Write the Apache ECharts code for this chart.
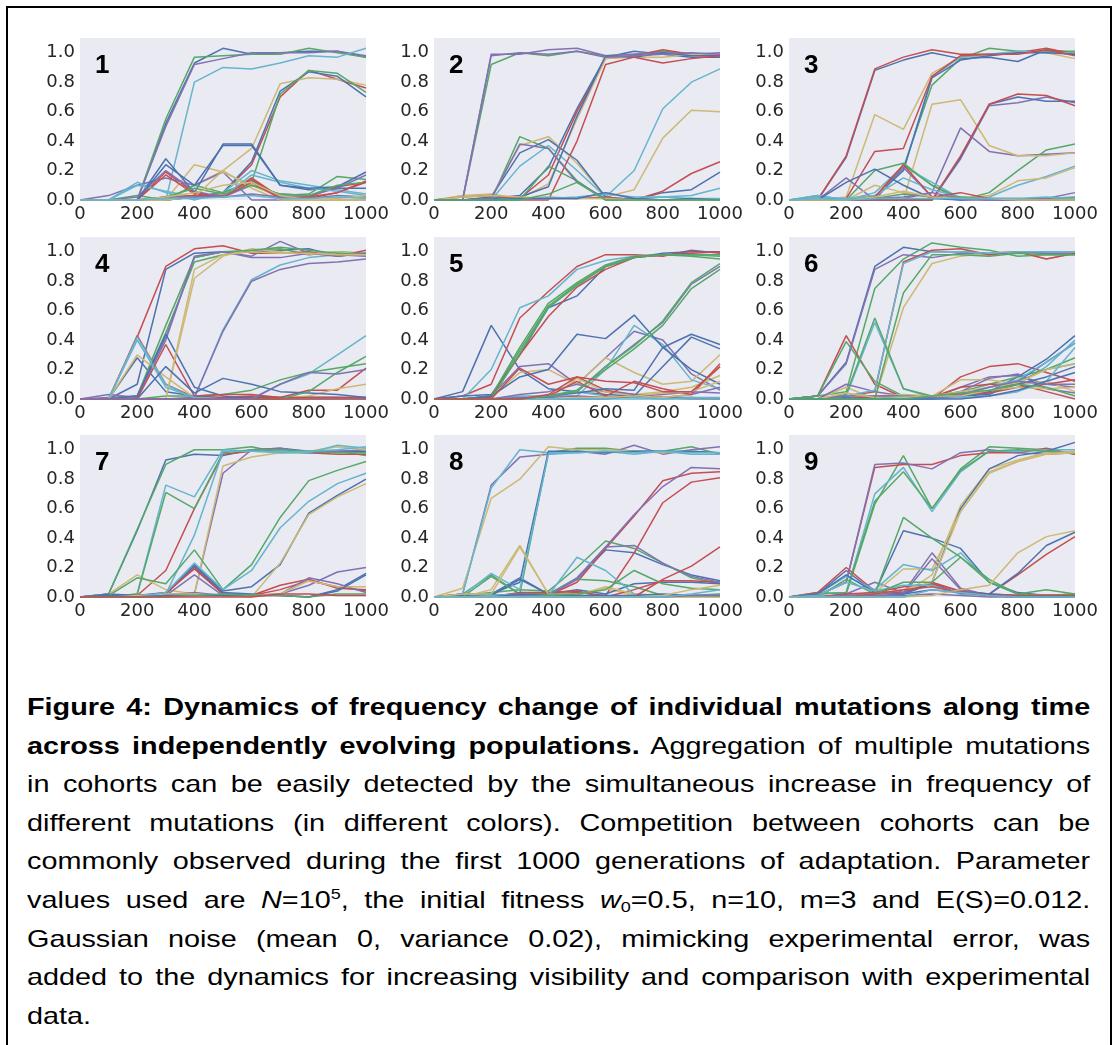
<!DOCTYPE html>
<html>
<head>
<meta charset="utf-8">
<script src="https://cdn.jsdelivr.net/npm/echarts@6/dist/echarts.min.js"></script>
<style>
  html, body { margin: 0; padding: 0; background: #fff; }
  body { width: 1114px; height: 1045px; position: relative; overflow: hidden; }
  #frame { position: absolute; left: 6px; top: 6px; width: 1102px; height: 1100px; border: 2px solid #000; }
  #chart { position: absolute; left: 0; top: 0; width: 1114px; height: 640px; }
  #caption {
    position: absolute; left: 27px; top: 688px; width: 886px;
    font-family: "Liberation Sans", Arial, sans-serif; font-size: 24px; line-height: 38.6px;
    color: #000; transform: scaleX(1.2); transform-origin: 0 0;
  }
  #caption .ln { text-align: justify; text-align-last: justify; white-space: nowrap; }
  #caption .ln.last { text-align-last: left; }
  #caption sup, #caption sub { font-size: 15px; line-height: 0; }
  #caption sup { vertical-align: 9px; }
  #caption sub { vertical-align: -4px; }
</style>
</head>
<body>
<div id="frame"></div>
<div id="chart"></div>
<div id="caption">
  <div class="ln"><b>Figure 4: Dynamics of frequency change of individual mutations along time</b></div>
  <div class="ln"><b>across independently evolving populations.</b> Aggregation of multiple mutations</div>
  <div class="ln">in cohorts can be easily detected by the simultaneous increase in frequency of</div>
  <div class="ln">different mutations (in different colors). Competition between cohorts can be</div>
  <div class="ln">commonly observed during the first 1000 generations of adaptation. Parameter</div>
  <div class="ln">values used are <i>N</i>=10<sup>5</sup>, the initial fitness <i>w</i><sub>0</sub>=0.5, n=10, m=3 and E(S)=0.012.</div>
  <div class="ln">Gaussian noise (mean 0, variance 0.02), mimicking experimental error, was</div>
  <div class="ln">added to the dynamics for increasing visibility and comparison with experimental</div>
  <div class="ln last">data.</div>
</div>
<script>
// Sampling times (generations) shared by every trajectory
const generations = [0, 100, 200, 300, 400, 500, 600, 700, 800, 900, 1000];

// Panel titles
const panelLabels = ['1', '2', '3', '4', '5', '6', '7', '8', '9'];

// Mutation frequency trajectories, one array per mutation, in plotting order.
// Colours follow the plotting order through the palette cycle.
const population1 = [
  [0,0,0,0.52,0.93,1.03,0.99,1.0,1.01,1.01,0.97],
  [0,0,0,0.55,0.97,0.98,0.99,0.99,1.03,1.0,0.97],
  [0,0,0,0,0.02,0.05,0.24,0.70,0.88,0.82,0.76],
  [0,0,0,0.5,0.92,0.96,1.0,1.0,1.0,1.01,0.98],
  [0,0,0,0,0.1,0.2,0.35,0.79,0.83,0.82,0.78],
  [0,0,0,0,0.8,0.9,0.89,0.93,0.98,0.97,1.03],
  [0,0,0,0,0.02,0.05,0.26,0.74,0.87,0.84,0.70],
  [0,0,0,0,0.02,0.05,0.12,0.72,0.88,0.86,0.73],
  [0,0,0,0.19,0.05,0.02,0.15,0.02,0.01,0.05,0.13],
  [0,0.03,0.1,0.15,0.1,0.19,0.0,0,0,0,0],
  [0,0,0,0,0.24,0.19,0.1,0.02,0,0,0],
  [0,0,0.12,0.05,0,0.05,0.2,0.13,0.1,0.07,0.04],
  [0,0,0,0.28,0.05,0.38,0.38,0.1,0.07,0.08,0.08],
  [0,0,0.03,0,0.1,0.05,0.13,0.03,0.04,0.16,0.14],
  [0,0,0,0.17,0.04,0.03,0.14,0.02,0.02,0.09,0.12],
  [0,0,0.02,0.2,0.06,0.02,0.1,0.04,0.03,0.08,0.17],
  [0,0,0,0,0.02,0.2,0.08,0,0,0,0],
  [0,0,0.1,0.06,0.02,0.02,0.17,0.12,0.08,0.06,0.03],
  [0,0,0,0.24,0.1,0.37,0.37,0.1,0.08,0.09,0.19],
  [0,0,0,0.02,0.08,0.04,0.1,0.04,0.03,0.1,0.12],
  [0,0,0,0.02,0.03,0.02,0.12,0.01,0.02,0.05,0.12],
  [0,0,0,0.02,0.02,0.02,0.04,0.02,0.01,0.03,0.02],
  [0,0,0,0.02,0.05,0.1,0.12,0.03,0,0.01,0.03],
  [0,0,0,0.01,0.01,0.02,0.03,0.01,0.01,0.02,0.01]
];

const population2 = [
  [0,0,0.01,0.03,0.22,0.62,0.97,1.01,0.99,0.97,0.97],
  [0,0,0.92,1.0,0.98,1.01,0.98,0.99,1.01,0.99,0.98],
  [0,0,0,0.01,0.17,0.6,0.96,0.98,1.02,0.99,0.98],
  [0,0,0.99,0.99,1.02,1.03,0.98,0.99,1.0,0.99,1.0],
  [0,0.03,0.04,0.01,0.11,0.55,0.96,0.97,0.97,0.99,0.98],
  [0,0,0,0.23,0.37,0.2,0.02,0.2,0.62,0.8,0.89],
  [0,0,0.01,0.02,0.09,0.57,0.98,0.97,1.0,0.98,0.98],
  [0,0,0,0.43,0.35,0.13,0,0,0,0,0],
  [0,0,0,0,0,0.4,0.92,0.97,0.93,0.96,0.98],
  [0,0,0.98,1.0,0.99,1.01,0.97,0.98,0.99,1.0,0.99],
  [0,0,0.02,0.37,0.43,0.25,0.02,0.07,0.42,0.61,0.6],
  [0,0,0,0.01,0.02,0.01,0.05,0.01,0.02,0.03,0.08],
  [0,0,0.02,0.32,0.41,0.27,0.02,0,0.05,0.07,0.19],
  [0,0,0,0,0.23,0.13,0,0,0,0,0],
  [0,0.02,0.03,0.01,0.01,0.01,0.02,0,0.06,0.18,0.26],
  [0,0,0.01,0.38,0.35,0.12,0.01,0.01,0,0,0],
  [0,0.02,0.03,0.02,0.01,0.01,0.01,0,0,0,0],
  [0,0,0,0.01,0.01,0.02,0.04,0.02,0.02,0.01,0.01],
  [0,0,0,0.01,0.01,0.01,0.05,0.01,0,0.01,0],
  [0,0,0,0,0.04,0.12,0,0,0,0,0]
];

const population3 = [
  [0,0,0.29,0.88,0.95,1.0,0.96,0.97,0.94,1.02,1.0],
  [0,0,0,0.02,0.22,0.78,0.96,1.03,1.01,1.01,1.01],
  [0,0,0.3,0.89,0.97,1.02,0.99,0.99,1.0,1.03,0.99],
  [0,0,0,0,0.01,0.05,0.49,0.33,0.3,0.31,0.32],
  [0,0,0.02,0.58,0.48,0.86,0.97,0.98,1.01,1.0,0.96],
  [0,0.03,0,0.02,0.2,0.84,0.97,0.99,1.01,1.0,1.0],
  [0,0,0,0.02,0.2,0.83,0.95,0.98,1.0,1.0,0.99],
  [0,0,0,0.2,0.25,0.1,0,0.05,0.2,0.34,0.38],
  [0,0,0.01,0.33,0.35,0.84,0.98,0.99,0.99,1.02,0.98],
  [0,0,0,0,0,0,0.28,0.64,0.66,0.7,0.66],
  [0,0,0,0,0,0.65,0.68,0.37,0.3,0.3,0.32],
  [0,0.03,0,0.05,0.23,0.12,0.01,0.02,0.1,0.16,0.23],
  [0,0,0,0,0,0,0.29,0.65,0.7,0.67,0.67],
  [0,0.02,0,0.01,0.24,0.1,0.01,0,0,0.01,0.02],
  [0,0,0,0,0,0,0.3,0.65,0.72,0.71,0.64],
  [0,0,0.15,0,0.22,0.02,0,0,0,0.01,0.05],
  [0,0,0,0.1,0.05,0.02,0.01,0.03,0.13,0.15,0.22],
  [0,0.02,0.01,0.03,0.15,0.07,0.02,0.01,0,0,0],
  [0,0,0.12,0.21,0.1,0.01,0,0.01,0.01,0,0.01],
  [0,0,0,0.01,0.04,0.02,0.02,0.01,0,0,0.01],
  [0,0,0,0.02,0.24,0.02,0.05,0.01,0,0,0],
  [0,0,0,0.01,0.02,0.05,0.01,0,0,0,0],
  [0,0,0,0.02,0.06,0.02,0.01,0.01,0,0,0],
  [0,0.01,0,0.01,0.01,0.01,0.01,0.01,0.01,0.02,0.01]
];

const population4 = [
  [0,0,0.1,0.88,0.99,1.0,1.0,1.01,1.02,0.97,0.99],
  [0,0,0.02,0.45,0.93,0.98,1.01,1.02,0.98,1.0,0.99],
  [0,0,0.42,0.9,1.02,1.04,0.99,0.99,1.0,0.97,1.01],
  [0,0.01,0.02,0.42,0.96,1.0,0.97,1.07,0.99,0.98,0.97],
  [0,0,0,0,0.82,0.97,1.02,1.0,0.98,1.0,0.98],
  [0,0,0,0,0.01,0.47,0.81,0.91,0.96,0.98,0.98],
  [0,0,0.28,0.05,0.02,0.01,0.01,0.01,0.01,0.01,0.01],
  [0,0,0.02,0.5,0.96,1.0,1.01,1.03,1.01,0.99,0.98],
  [0,0,0.43,0.1,0.01,0.01,0.02,0.01,0.06,0.06,0.21],
  [0,0.03,0.01,0.4,0.97,1.0,0.96,0.96,0.99,0.97,0.99],
  [0,0,0.3,0.15,0.01,0,0,0,0.02,0.07,0.1],
  [0,0,0.42,0.1,0,0,0,0.1,0.17,0.3,0.43],
  [0,0,0.02,0.44,0.08,0.02,0,0,0.01,0.01,0],
  [0,0,0,0.02,0.02,0.03,0.06,0.13,0.18,0.21,0.24],
  [0,0,0,0.37,0.02,0.03,0.03,0.01,0.01,0.01,0.01],
  [0,0,0,0,0.01,0.46,0.8,0.88,0.92,0.93,0.95],
  [0,0,0,0,0.88,0.98,1.0,0.99,0.99,0.98,0.98],
  [0,0,0.4,0.08,0.01,0,0,0,0,0,0],
  [0,0,0,0.22,0.04,0.14,0.1,0.05,0.04,0.03,0.01],
  [0,0,0,0,0,0,0,0,0.05,0.18,0.29],
  [0,0,0,0,0,0,0,0,0,0,0],
  [0,0,0,0,0,0,0,0.1,0.18,0.17,0.2]
];

const population5 = [
  [0,0.05,0.5,0.2,0.07,0.05,0.03,0.02,0.01,0.01,0.0],
  [0,0,0.02,0.33,0.63,0.78,0.9,0.96,0.98,0.98,0.97],
  [0,0.02,0.1,0.55,0.73,0.9,0.98,0.98,0.97,1.01,0.99],
  [0,0,0.02,0.22,0.24,0.1,0.28,0.46,0.4,0.17,0.06],
  [0,0,0.01,0.18,0.2,0.1,0.28,0.18,0.1,0.12,0.3],
  [0,0,0.2,0.62,0.7,0.88,0.94,0.97,0.98,0.98,0.98],
  [0,0.02,0.03,0.3,0.62,0.7,0.9,0.96,0.99,1.0,1.0],
  [0,0,0.02,0.35,0.65,0.79,0.91,0.97,0.98,0.97,0.95],
  [0,0,0.01,0.3,0.56,0.76,0.88,0.96,0.98,0.99,1.0],
  [0,0,0,0,0.02,0.05,0.22,0.37,0.52,0.78,0.9],
  [0,0,0,0,0.02,0.05,0.05,0.03,0.05,0.08,0.16],
  [0,0,0,0.02,0.02,0.02,0.2,0.5,0.37,0.13,0.07],
  [0,0,0.02,0.15,0.2,0.44,0.41,0.57,0.35,0.2,0.1],
  [0,0,0,0.31,0.62,0.77,0.9,0.96,0.98,0.98,0.98],
  [0,0,0,0.21,0.1,0.15,0.06,0.03,0.01,0,0],
  [0,0,0,0.03,0.05,0.1,0.05,0.03,0.01,0.03,0.08],
  [0,0,0,0,0,0.14,0.05,0.02,0.01,0.03,0.22],
  [0,0,0,0.01,0.01,0.05,0.02,0.01,0,0,0],
  [0,0,0,0,0,0,0,0.02,0.22,0.42,0.34],
  [0,0,0,0,0.02,0.06,0.2,0.34,0.5,0.75,0.88],
  [0,0,0,0,0.02,0.12,0.02,0.12,0.07,0.03,0.24],
  [0,0,0,0.01,0.01,0.02,0.01,0.02,0.03,0.05,0.04],
  [0,0,0,0,0,0.01,0.01,0.02,0.04,0.05,0.12],
  [0,0,0,0,0,0,0,0,0,0.01,0.01],
  [0,0,0,0,0.02,0.04,0.07,0.06,0.35,0.44,0.37],
  [0,0,0,0,0.02,0.05,0.22,0.36,0.53,0.79,0.92],
  [0,0,0,0,0.03,0.15,0.12,0.11,0.05,0.05,0.22]
];

const population6 = [
  [0,0.02,0.25,0.9,1.03,1.0,1.0,0.99,1.0,0.99,0.99],
  [0,0.02,0.05,0.75,0.95,1.06,1.03,1.01,0.97,0.98,0.98],
  [0,0.02,0.43,0.1,0.01,0,0.15,0.22,0.24,0.18,0.12],
  [0,0.02,0.24,0.88,0.98,0.96,0.99,0.98,1.0,0.99,0.99],
  [0,0,0.08,0,0.62,0.92,0.97,0.99,1.0,0.95,0.99],
  [0,0,0.02,0.52,0.07,0.01,0.02,0.04,0.1,0.22,0.4],
  [0,0,0.01,0.01,0.02,0.01,0.03,0.05,0.15,0.27,0.43],
  [0,0.02,0.39,0.12,0.02,0.02,0.05,0.1,0.15,0.2,0.28],
  [0,0,0.02,0.05,0.93,1.01,1.02,0.98,1.0,0.95,0.99],
  [0,0,0.1,0.05,0.02,0.01,0.08,0.15,0.16,0.1,0.08],
  [0,0,0,0.02,0.03,0.02,0.13,0.13,0.1,0.12,0.05],
  [0,0,0.02,0.06,0.92,1.0,1.0,0.99,1.0,1.0,1.0],
  [0,0,0,0.01,0.01,0.02,0.02,0.03,0.12,0.25,0.38],
  [0,0,0.03,0.55,0.07,0.02,0.03,0.05,0.12,0.2,0.24],
  [0,0,0,0.02,0.02,0.01,0.08,0.1,0.1,0.05,0.0],
  [0,0,0.02,0.02,0.02,0.01,0.05,0.14,0.17,0.07,0.04],
  [0,0,0.04,0.01,0.01,0.02,0.05,0.08,0.11,0.2,0.24],
  [0,0,0,0,0.02,0.01,0.03,0.08,0.13,0.25,0.38],
  [0,0,0,0,0,0,0.02,0.05,0.1,0.15,0.22],
  [0,0,0,0,0.72,0.98,0.98,0.97,0.99,0.98,0.98],
  [0,0,0,0,0,0.02,0.03,0.04,0.08,0.1,0.13],
  [0,0,0,0,0.01,0.01,0.03,0.08,0.12,0.1,0.1],
  [0,0,0,0,0.01,0.02,0.02,0.06,0.08,0.07,0.08],
  [0,0,0,0,0,0,0.01,0.02,0.05,0.12,0.35],
  [0,0,0,0,0,0,0,0.02,0.06,0.12,0.18],
  [0,0,0,0,0,0.02,0.04,0.06,0.1,0.08,0.02]
];

const population7 = [
  [0,0.02,0.45,0.93,0.97,0.96,1.0,1.01,0.99,0.99,0.99],
  [0,0.02,0.46,0.9,1.0,1.0,1.02,0.98,0.98,0.99,0.96],
  [0,0,0.01,0.18,0.6,0.97,0.99,0.99,0.98,0.97,0.97],
  [0,0,0,0.02,0.02,0.84,1.0,1.01,0.98,0.99,1.0],
  [0,0.02,0.15,0.05,0.02,0.89,0.95,0.98,0.99,1.02,1.0],
  [0,0,0.02,0.76,0.68,1.0,0.99,0.99,0.98,1.03,1.01],
  [0,0.01,0.01,0.02,0.22,0.04,0.07,0.22,0.57,0.69,0.8],
  [0,0,0.02,0.71,0.6,0.98,1.0,1.0,0.99,0.98,0.98],
  [0,0,0.01,0.02,0.2,0.02,0.01,0.08,0.12,0.06,0.05],
  [0,0,0,0.01,0.15,0.01,0.01,0.02,0.08,0.17,0.2],
  [0,0,0,0.01,0.01,0.01,0,0.23,0.56,0.68,0.77],
  [0,0,0.01,0.02,0.42,0.99,0.99,0.98,0.99,1.0,1.02],
  [0,0.02,0.01,0.03,0.21,0.03,0.02,0.01,0.0,0.05,0.16],
  [0,0.01,0.13,0.09,0.32,0.05,0.22,0.54,0.79,0.86,0.92],
  [0,0,0,0.03,0.19,0.02,0.01,0.05,0.11,0.07,0.04],
  [0,0,0,0.01,0.03,0.01,0.01,0.02,0.13,0.09,0.03],
  [0,0,0.01,0.02,0.02,0.01,0.01,0.02,0.11,0.07,0.07],
  [0,0,0,0.03,0.23,0.05,0.18,0.47,0.65,0.77,0.84],
  [0,0.01,0,0.01,0.01,0.01,0.01,0.01,0,0.04,0.15],
  [0,0,0,0,0.01,0.02,0.01,0.01,0,0.02,0.02],
  [0,0,0,0,0,0,0,0.02,0.02,0.01,0.01]
];

const population8 = [
  [0,0.01,0.02,0.13,0.02,0.12,0.32,0.3,0.22,0.15,0.11],
  [0,0.02,0.15,0.02,0.98,1.01,1.01,0.99,0.99,1.02,0.97],
  [0,0,0.01,0.02,0.01,0.1,0.33,0.55,0.79,0.84,0.85],
  [0,0.02,0.76,0.95,0.97,0.99,0.97,1.03,0.97,1.0,1.02],
  [0,0.06,0.67,0.8,1.02,1.0,1.0,0.99,0.98,0.99,0.98],
  [0,0.02,0.74,1.0,0.98,0.98,0.99,0.97,0.99,0.97,0.97],
  [0,0.02,0.02,0.1,0.99,0.99,0.98,0.99,0.99,0.99,0.98],
  [0,0.01,0.03,0.05,0.04,0.2,0.38,0.33,0.23,0.13,0.09],
  [0,0,0,0.02,0.02,0.03,0.01,0.3,0.64,0.78,0.81],
  [0,0,0.01,0.02,0.02,0.13,0.34,0.56,0.75,0.88,0.87],
  [0,0,0.05,0.35,0.02,0.02,0.06,0.01,0,0,0],
  [0,0.01,0.16,0.05,0.97,0.98,0.99,0.98,0.99,0.98,0.98],
  [0,0.01,0.01,0.12,0.02,0.05,0.02,0.09,0.1,0.1,0.09],
  [0,0,0.14,0.02,0.02,0.12,0.11,0.07,0.01,0.01,0.02],
  [0,0,0,0.03,0.03,0.04,0,0.05,0.11,0.11,0.1],
  [0,0,0,0.01,0.01,0.12,0.34,0.35,0.23,0.14,0.1],
  [0,0.02,0.02,0.34,0.02,0.01,0.07,0.02,0,0,0],
  [0,0,0.01,0.02,0.01,0.27,0.18,0.02,0.01,0.01,0.01],
  [0,0,0,0.02,0.01,0.01,0.01,0.01,0.02,0.01,0.01],
  [0,0,0,0,0.01,0.02,0.05,0.18,0.09,0.06,0.05],
  [0,0,0,0,0,0,0,0,0.12,0.21,0.34],
  [0,0,0,0,0,0,0,0,0,0.01,0.01],
  [0,0,0,0,0,0,0,0,0.01,0.05,0.08],
  [0,0,0,0,0,0,0,0,0,0.02,0.05]
];

const population9 = [
  [0,0.02,0.18,0.03,0.45,0.4,0.33,0.1,0.03,0.01,0.01],
  [0,0.03,0.02,0.63,0.96,0.6,0.87,1.02,1.01,1.0,0.97],
  [0,0.01,0.1,0.88,0.9,0.9,0.96,0.98,0.98,1.01,0.97],
  [0,0.01,0.1,0.9,0.91,0.87,0.98,1.0,0.98,0.97,0.98],
  [0,0,0.01,0.02,0.02,0.15,0.62,0.87,0.93,0.98,0.99],
  [0,0.02,0.03,0.7,0.88,0.58,0.85,0.99,0.99,1.0,1.0],
  [0,0,0.01,0.03,0.03,0.1,0.6,0.87,0.96,0.99,1.05],
  [0,0.02,0.03,0.65,0.85,0.6,0.86,0.99,1.0,0.99,0.98],
  [0,0.03,0.2,0.04,0.03,0.1,0.04,0.02,0.15,0.29,0.41],
  [0,0,0.02,0.1,0.03,0.3,0.06,0.01,0,0.01,0.02],
  [0,0,0.01,0.03,0.19,0.19,0.58,0.85,0.92,0.97,0.99],
  [0,0.02,0.14,0.05,0.22,0.18,0.3,0.1,0.02,0.01,0.01],
  [0,0.02,0.15,0.03,0.02,0.09,0.02,0.02,0.16,0.35,0.44],
  [0,0,0.12,0.02,0.54,0.4,0.27,0.1,0.02,0.05,0.02],
  [0,0,0.02,0.03,0.07,0.09,0.04,0.02,0.01,0.01,0.01],
  [0,0,0.01,0.02,0.02,0.26,0.05,0.01,0,0,0.01],
  [0,0,0,0.02,0.05,0.1,0.58,0.84,0.92,0.97,0.98],
  [0,0.01,0.1,0.04,0.08,0.08,0.02,0.01,0,0,0],
  [0,0,0,0,0.02,0.05,0.03,0.02,0.01,0.01,0.01],
  [0,0,0,0.02,0.1,0.1,0.27,0.12,0.02,0.01,0.02],
  [0,0,0,0.02,0.05,0.07,0.03,0.01,0.01,0.01,0.01],
  [0,0,0,0.01,0.01,0.02,0.01,0,0,0,0],
  [0,0,0,0,0,0.01,0.05,0.08,0.3,0.41,0.45],
  [0,0,0,0,0,0.05,0.03,0.01,0,0,0]
];

const populations = [population1, population2, population3, population4, population5,
                     population6, population7, population8, population9];

// Colour cycle (seaborn "deep")
const palette = ['#4C72B0', '#55A868', '#C44E52', '#8172B2', '#CCB974', '#64B5CD'];

// 3 x 3 panel layout
const colLeft = [80, 434, 789];
const rowTop = [38, 237, 435];
const panelW = 286;
const panelH = 162;

const chart = echarts.init(document.getElementById('chart'), null, { renderer: 'canvas' });

const grids = [], xAxes = [], yAxes = [], series = [], graphics = [];
const tickFont = { fontFamily: 'DejaVu Sans', fontSize: 18, color: '#262626' };

populations.forEach((lines, p) => {
  const left = colLeft[p % 3];
  const top = rowTop[Math.floor(p / 3)];
  grids.push({
    left: left, top: top, width: panelW, height: panelH,
    show: true, backgroundColor: '#EAEAF2', borderWidth: 0
  });
  xAxes.push({
    type: 'value', gridIndex: p, min: 0, max: 1000, interval: 200,
    axisLine: { show: false }, axisTick: { show: false }, splitLine: { show: false },
    axisLabel: Object.assign({ margin: 5, formatter: v => String(v) }, tickFont)
  });
  yAxes.push({
    type: 'value', gridIndex: p, min: 0, max: 1.1, interval: 0.2,
    axisLine: { show: false }, axisTick: { show: false }, splitLine: { show: false },
    axisLabel: Object.assign({
      margin: 5,
      formatter: v => (v > 1.05 ? '' : v.toFixed(1))
    }, tickFont)
  });
  lines.forEach((vals, i) => {
    series.push({
      type: 'line', xAxisIndex: p, yAxisIndex: p,
      data: generations.map((g, k) => [g, vals[k]]),
      symbol: 'none', clip: false, silent: true,
      lineStyle: { width: 1.5, color: palette[i % palette.length] },
      itemStyle: { color: palette[i % palette.length] }
    });
  });
  graphics.push({
    type: 'text', left: left + 15, top: top + 15, silent: true,
    style: {
      text: panelLabels[p], fill: '#000',
      font: 'bold 26px "Liberation Sans", Arial, sans-serif'
    }
  });
});

chart.setOption({
  animation: false,
  backgroundColor: 'transparent',
  grid: grids,
  xAxis: xAxes,
  yAxis: yAxes,
  series: series,
  graphic: graphics
});
</script>
</body>
</html>
